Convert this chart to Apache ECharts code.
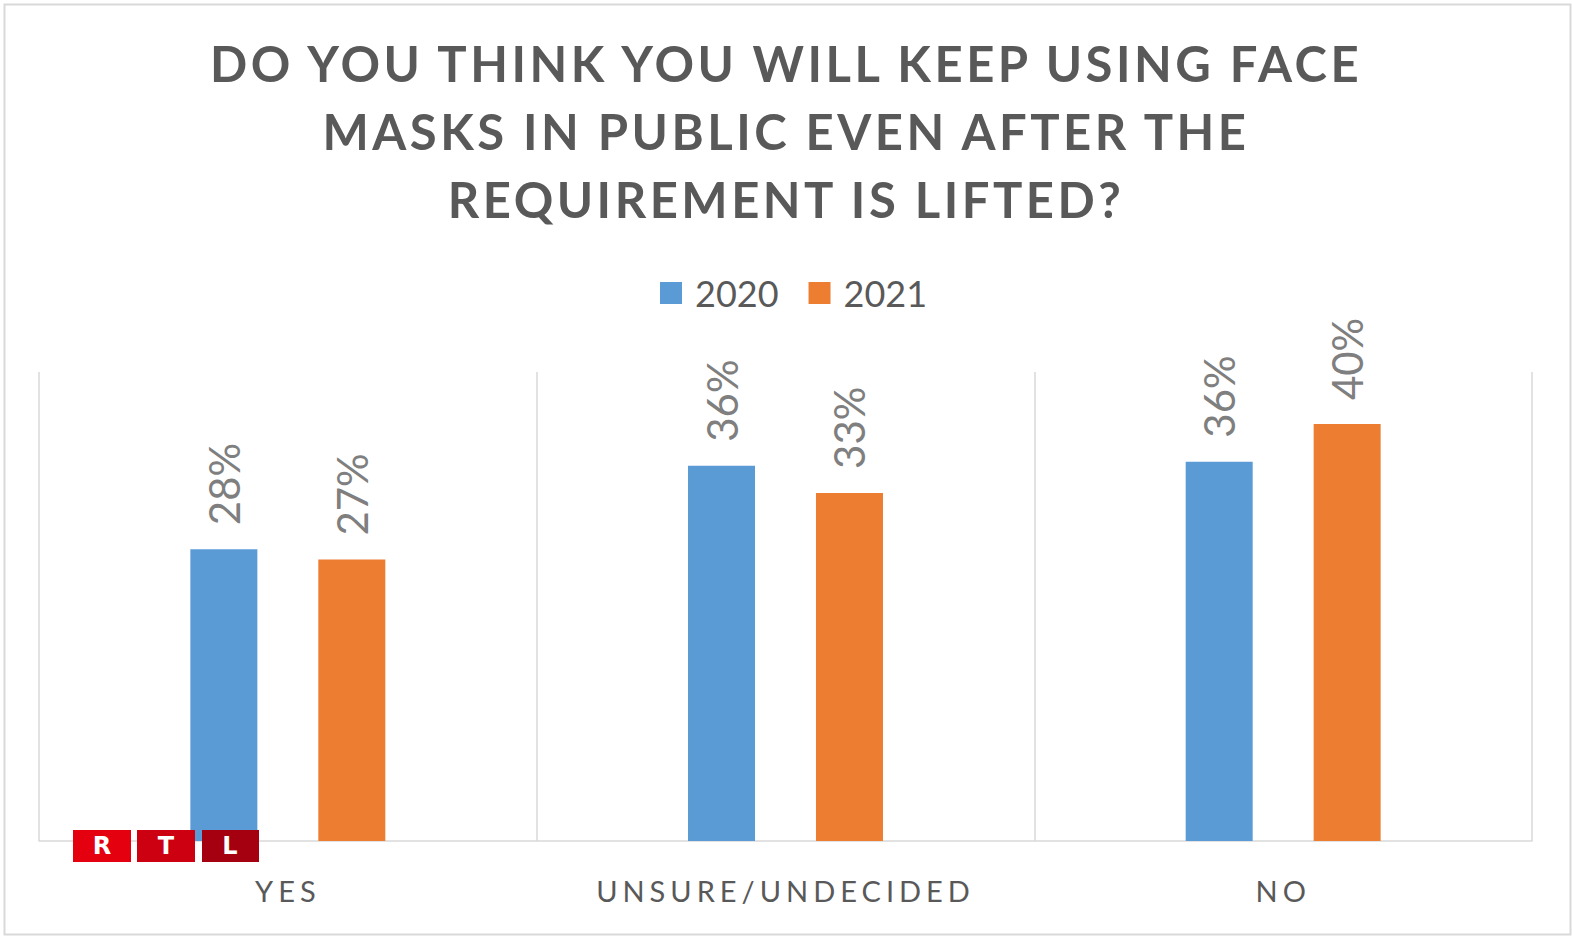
<!DOCTYPE html>
<html>
<head>
<meta charset="utf-8">
<script src="https://cdn.jsdelivr.net/npm/echarts@6/dist/echarts.min.js"></script>
<style>
html,body{margin:0;padding:0;background:#fff;}
#c{width:1572px;height:936px;}
#c text[style*="49px"]{letter-spacing:3.5px;}
#c text[style*="29px"]{letter-spacing:5px;}
</style>
</head>
<body>
<div id="c"></div>
<script>
const titleLines = ['DO YOU THINK YOU WILL KEEP USING FACE', 'MASKS IN PUBLIC EVEN AFTER THE', 'REQUIREMENT IS LIFTED?'];
const categories = ['YES', 'UNSURE/UNDECIDED', 'NO'];
const seriesNames = ['2020', '2021'];
const values2020 = [0.28, 0.36, 0.364];
const values2021 = [0.27, 0.334, 0.40];
const colors = ['#5B9BD5', '#ED7D31'];

const chart = echarts.init(document.getElementById('c'), null, {renderer: 'svg'});
const labelCfg = {
  show: true,
  position: 'top',
  distance: 24,
  rotate: 90,
  align: 'left',
  verticalAlign: 'middle',
  color: '#7F7F7F',
  fontFamily: 'Lato',
  fontSize: 42,
  formatter: p => Math.round(p.value * 100) + '%'
};
const logoFont = 'bold 24px "DejaVu Sans"';
chart.setOption({
  animation: false,
  backgroundColor: '#fff',
  title: {
    text: titleLines.join('\n'),
    left: 'center',
    top: 24,
    textStyle: {
      color: '#595959',
      fontFamily: 'Lato',
      fontWeight: 'bold',
      fontSize: 49,
      lineHeight: 68
    }
  },
  legend: {
    data: seriesNames,
    top: 270,
    left: 655,
    itemWidth: 22,
    itemHeight: 22,
    itemGap: 30,
    icon: 'rect',
    textStyle: {color: '#595959', fontFamily: 'Lato', fontSize: 36, padding: [0, 0, 0, 8]}
  },
  grid: {left: 39, right: 40, top: 372, bottom: 95, containLabel: false},
  xAxis: {
    type: 'category',
    data: categories,
    axisLine: {show: true, lineStyle: {color: '#D9D9D9', width: 1.5}},
    axisTick: {show: false},
    splitLine: {show: true, lineStyle: {color: '#D9D9D9', width: 1.5}},
    axisLabel: {color: '#595959', fontFamily: 'Lato', fontSize: 29, margin: 35}
  },
  yAxis: {
    type: 'value',
    min: 0,
    max: 0.45,
    show: false,
    splitLine: {show: false}
  },
  series: [
    {name: seriesNames[0], type: 'bar', data: values2020, barWidth: 67, barGap: '91%', itemStyle: {color: colors[0]}, label: labelCfg, z: 2},
    {name: seriesNames[1], type: 'bar', data: values2021, barWidth: 67, barGap: '91%', itemStyle: {color: colors[1]}, label: labelCfg, z: 2}
  ],
  graphic: [
    {type: 'rect', left: 2, top: 2, shape: {width: 1566, height: 930}, style: {fill: 'none', stroke: '#D9D9D9', lineWidth: 2}, silent: true, z: 0},
    {type: 'rect', x: 73, y: 830, z: 100, zlevel: 1, shape: {width: 58, height: 32}, style: {fill: '#E5000F'}},
    {type: 'rect', x: 137, y: 830, z: 100, zlevel: 1, shape: {width: 58, height: 32}, style: {fill: '#CC0010'}},
    {type: 'rect', x: 202, y: 830, z: 100, zlevel: 1, shape: {width: 57, height: 32}, style: {fill: '#A4000F'}},
    {type: 'text', x: 102, y: 846, z: 101, zlevel: 1, style: {text: 'R', fill: '#fff', font: logoFont, align: 'center', verticalAlign: 'middle'}},
    {type: 'text', x: 166, y: 846, z: 101, zlevel: 1, style: {text: 'T', fill: '#fff', font: logoFont, align: 'center', verticalAlign: 'middle'}},
    {type: 'text', x: 230, y: 846, z: 101, zlevel: 1, style: {text: 'L', fill: '#fff', font: logoFont, align: 'center', verticalAlign: 'middle'}}
  ]
});
</script>
</body>
</html>
